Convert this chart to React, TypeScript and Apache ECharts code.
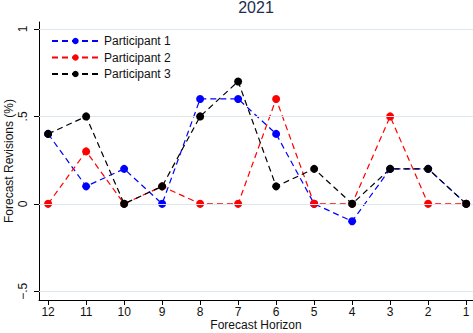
import React, { useEffect, useRef } from "react";
import * as echarts from "echarts";

const horizons = [12, 11, 10, 9, 8, 7, 6, 5, 4, 3, 2, 1];
const participant1 = [0.4, 0.1, 0.2, 0, 0.6, 0.6, 0.4, 0, -0.1, 0.2, 0.2, 0];
const participant2 = [0, 0.3, 0, 0.1, 0, 0, 0.6, 0, 0, 0.5, 0, 0];
const participant3 = [0.4, 0.5, 0, 0.1, 0.5, 0.7, 0.1, 0.2, 0, 0.2, 0.2, 0];
const yTicks = [-0.5, 0, 0.5, 1];
const seriesNames = ["Participant 1", "Participant 2", "Participant 3"];
const seriesColors = ["#0000ff", "#ff0000", "#000000"];

const fmtY = (v: number) => {
  if (v === 0) return "0";
  if (v === 1) return "1";
  const s = Math.abs(v).toString().replace(/^0/, "");
  return (v < 0 ? "\u2212" : "") + s;
};

export default function App() {
  const ref = useRef<HTMLDivElement>(null);
  useEffect(() => {
    if (!ref.current) return;
    const chart = echarts.init(ref.current, undefined, { renderer: "svg" });
    const font = "Liberation Sans, Arial, Helvetica, sans-serif";
    const allData = [participant1, participant2, participant3];
    const series: any[] = allData.map((vals, i) => ({
      name: seriesNames[i],
      type: "line",
      data: horizons.map((h, j) => [h, vals[j]]),
      symbol: "circle",
      symbolSize: 8,
      itemStyle: { color: seriesColors[i] },
      lineStyle: { color: seriesColors[i], width: 1.2, type: [6, 4] },
      z: 3 + i,
    }));
    series.push({
      name: "grid",
      type: "line",
      data: [],
      silent: true,
      z: 1,
      markLine: {
        silent: true,
        symbol: "none",
        animation: false,
        label: { show: false },
        lineStyle: { color: "#dde8ee", width: 1, type: "solid" },
        data: yTicks.map((t) => ({ yAxis: t })),
      },
    });
    chart.setOption({
      animation: false,
      textStyle: { fontFamily: font },
      title: {
        text: "2021",
        left: 256,
        textAlign: "center",
        top: -1,
        padding: 0,
        textStyle: { fontFamily: font, fontSize: 16, fontWeight: "normal", color: "#1e2d4d" },
      },
      legend: {
        orient: "vertical",
        left: 46,
        top: 30,
        itemWidth: 47,
        itemHeight: 8,
        itemGap: 4.5,
        textStyle: { fontFamily: font, fontSize: 12, color: "#111" },
        data: seriesNames,
      },
      grid: {
        left: 39,
        right: 0,
        top: 22,
        bottom: 33,
        containLabel: false,
        outerBoundsMode: "none",
      },
      xAxis: {
        type: "value",
        inverse: true,
        min: 0.82,
        max: 12.24,
        name: "Forecast Horizon",
        nameLocation: "middle",
        nameGap: 19,
        nameMoveOverlap: false,
        nameTextStyle: { fontFamily: font, fontSize: 12, color: "#111" },
        axisLine: { show: true, onZero: false, lineStyle: { color: "#000", width: 1 } },
        axisTick: { show: true, length: 5, lineStyle: { color: "#000" }, customValues: horizons },
        axisLabel: {
          fontFamily: font,
          fontSize: 12,
          color: "#111",
          margin: 6,
          customValues: horizons,
          formatter: (v: number) => String(v),
        },
        splitLine: { show: false },
      },
      yAxis: {
        type: "value",
        min: -0.55,
        max: 1.04,
        name: "Forecast Revisions (%)",
        nameLocation: "middle",
        nameGap: 24,
        nameMoveOverlap: false,
        nameTextStyle: { fontFamily: font, fontSize: 12, color: "#111" },
        axisLine: { show: true, onZero: false, lineStyle: { color: "#000", width: 1 } },
        axisTick: { show: true, length: 5, lineStyle: { color: "#000" }, customValues: yTicks },
        axisLabel: {
          fontFamily: font,
          fontSize: 12,
          color: "#111",
          rotate: 90,
          margin: 10,
          customValues: yTicks,
          formatter: (v: number) => fmtY(v),
        },
        splitLine: { show: false },
      },
      series,
    });
    return () => chart.dispose();
  }, []);
  return (
    <div
      ref={ref}
      style={{ position: "absolute", left: 0, top: 0, width: 473, height: 333, background: "#fff" }}
    />
  );
}
